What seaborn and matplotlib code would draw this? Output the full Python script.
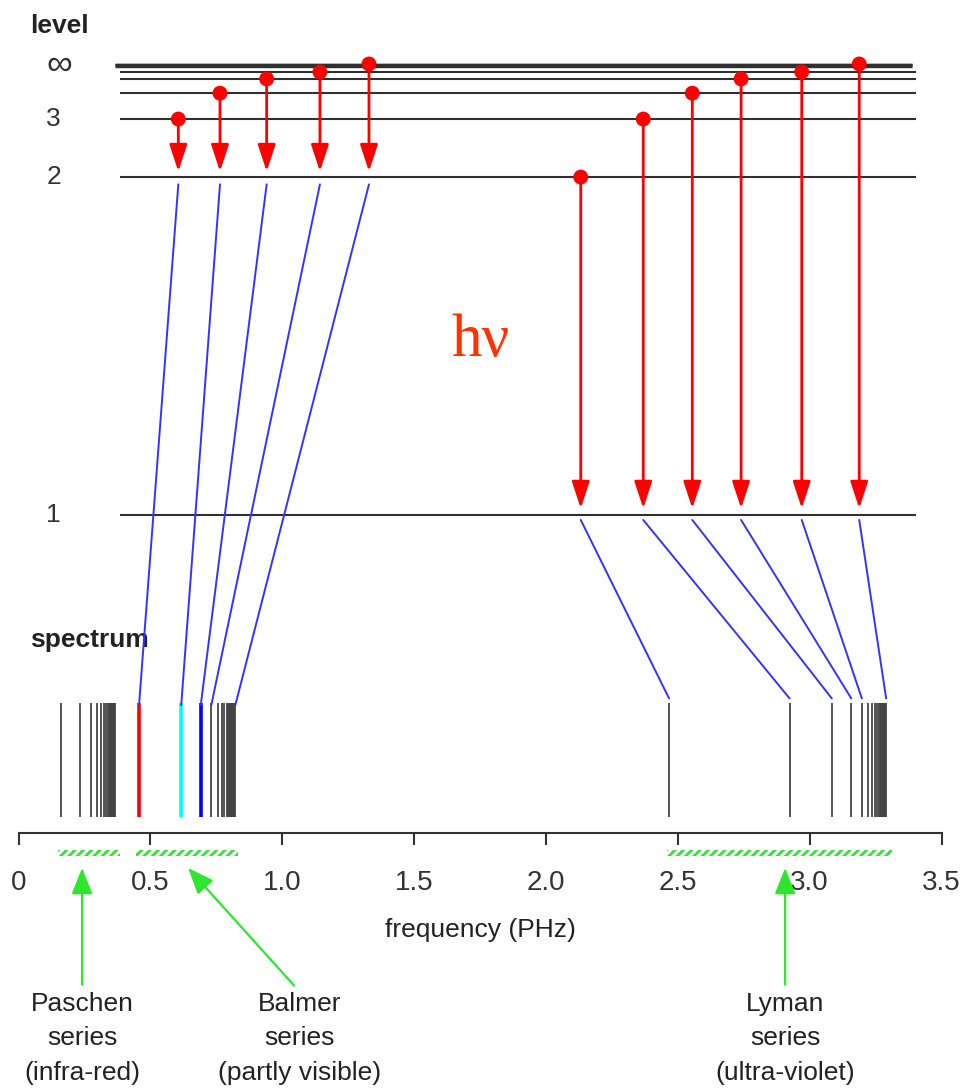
import numpy as np
import matplotlib
matplotlib.use('Agg')
import matplotlib.pyplot as plt
from matplotlib.patches import ConnectionPatch
import seaborn as sns

# Energy levels of hydrogen as drawn in the diagram (eV), n = 1..6
level_energy = [-13.6, -3.41, -1.66, -0.88, -0.45, -0.24]
# levels crowding towards the ionisation limit (eV)
limit_energy = [-0.10, -0.07, -0.045, -0.025, -0.01, 0.0]
level_tick_labels = ['1', '2', '3', '\u221e']
level_tick_values = [-13.6, -3.41, -1.66, -0.03]

# Transitions: horizontal place of each arrow and its upper / lower level (eV)
balmer_arrow_x = [0.606, 0.764, 0.941, 1.143, 1.329]
balmer_upper = [-1.66, -0.88, -0.45, -0.24, 0.0]
balmer_lower = -3.41
lyman_arrow_x = [2.132, 2.369, 2.555, 2.740, 2.970, 3.188]
lyman_upper = [-3.41, -1.66, -0.88, -0.45, -0.24, 0.0]
lyman_lower = -13.6

# Spectrum lines (PHz)
paschen_lines = [0.160, 0.234, 0.274, 0.298, 0.314, 0.325, 0.333, 0.339, 0.343,
                 0.347, 0.350, 0.352, 0.354, 0.356, 0.357, 0.359, 0.360, 0.362, 0.366]
balmer_lines = [0.457, 0.617, 0.691, 0.731, 0.755, 0.771, 0.781, 0.789, 0.794,
                0.799, 0.802, 0.805, 0.807, 0.809, 0.811, 0.813, 0.815, 0.817, 0.822]
balmer_colors = ['red', 'cyan', 'blue']
lyman_lines = [2.467, 2.924, 3.084, 3.158, 3.198, 3.223, 3.238, 3.249, 3.257,
               3.262, 3.267, 3.270, 3.273, 3.275, 3.277, 3.279, 3.282, 3.284, 3.290]

# where each transition ends up in the spectrum (PHz)
balmer_targets = [0.457, 0.617, 0.691, 0.731, 0.822]
lyman_targets = [2.467, 2.924, 3.084, 3.158, 3.198, 3.290]

# Series: name, frequency range (PHz), where the pointer goes
series_names = ['Paschen\nseries\n(infra-red)',
                'Balmer\nseries\n(partly visible)',
                'Lyman\nseries\n(ultra-violet)']
series_lo = [0.150, 0.446, 2.459]
series_hi = [0.385, 0.832, 3.313]
series_tip = [0.241, 0.643, 2.907]
series_text_x = [0.241, 1.067, 2.907]

freq_ticks = [0, 0.5, 1.0, 1.5, 2.0, 2.5, 3.0, 3.5]
freq_tick_labels = ['0', '0.5', '1.0', '1.5', '2.0', '2.5', '3.0', '3.5']

sns.set_theme(style='ticks')
plt.rcParams['font.family'] = ['Liberation Sans', 'DejaVu Sans']
plt.rcParams['hatch.linewidth'] = 2.0

fig = plt.figure(figsize=(9.77, 10.92), dpi=100)
ax_lv = fig.add_axes([0.01894, 0.48718, 0.94473, 0.51282])
ax_sp = fig.add_axes([0.01894, 0.23718, 0.94473, 0.21337])

# ---- energy level diagram ----
ax_lv.hlines(level_energy, 0.385, 3.402, color='#303030', lw=1.5)
ax_lv.hlines(limit_energy, 0.366, 3.388, color='#303030', lw=1.0)

for lab, val in zip(level_tick_labels, level_tick_values):
    size = 26 if lab == '\u221e' else 19
    ax_lv.text(0.106, val, lab, ha='left', va='center', fontsize=size, color='#333333')
ax_lv.text(0.0436, 0.935, 'level', fontsize=19, fontweight='bold', va='baseline', color='#222222')

for x, up in zip(balmer_arrow_x, balmer_upper):
    ax_lv.annotate('', xy=(x, balmer_lower + 0.17), xytext=(x, up),
                   arrowprops=dict(arrowstyle='-|>,head_length=0.82,head_width=0.27',
                                   mutation_scale=20, color='red', lw=2.0,
                                   shrinkA=0, shrinkB=0))
for x, up in zip(lyman_arrow_x, lyman_upper):
    ax_lv.annotate('', xy=(x, lyman_lower + 0.2), xytext=(x, up),
                   arrowprops=dict(arrowstyle='-|>,head_length=0.82,head_width=0.27',
                                   mutation_scale=20, color='red', lw=2.0,
                                   shrinkA=0, shrinkB=0))

sns.scatterplot(x=balmer_arrow_x + lyman_arrow_x, y=balmer_upper + lyman_upper,
                color='red', s=115, edgecolor='none', ax=ax_lv, zorder=5)

ax_lv.text(1.75, -8.81, 'h\u03bd', family=['Liberation Serif', 'DejaVu Serif'],
           fontsize=44, color='#ff3300', ha='center', va='baseline')

ax_lv.set_xlim(0, 3.5)
ax_lv.set_ylim(-14.958, 1.930)
ax_lv.axis('off')

# ---- spectrum ----
ax_sp.vlines(paschen_lines, 0, 1, color='#444444', lw=1.3)
ax_sp.vlines(balmer_lines[3:], 0, 1, color='#444444', lw=1.3)
ax_sp.vlines(balmer_lines[:3], 0, 1, colors=balmer_colors, lw=2.6)
ax_sp.vlines(lyman_lines, 0, 1, color='#444444', lw=1.3)

ax_sp.text(0.0436, 1.491, 'spectrum', fontsize=19, fontweight='bold', va='baseline', color='#222222')

# series ranges under the axis
ax_sp.bar(series_lo, height=0.046, width=np.subtract(series_hi, series_lo), bottom=-0.339,
          align='edge', facecolor='none', edgecolor='#2ee62e', linewidth=0,
          hatch='////', clip_on=False)

for name, tip, tx in zip(series_names, series_tip, series_text_x):
    ax_sp.annotate(name, xy=(tip, -0.447), xytext=(tx, -1.535), ha='center', va='top',
                   fontsize=19, color='#222222', linespacing=1.55, annotation_clip=False,
                   arrowprops=dict(arrowstyle='-|>,head_length=0.8,head_width=0.32',
                                   mutation_scale=20, color='#2ee62e', lw=1.6,
                                   shrinkA=3, shrinkB=0, relpos=(0.5, 1.0)))

# blue lines joining each transition to its spectral line
for x, tx in zip(balmer_arrow_x, balmer_targets):
    fig.add_artist(ConnectionPatch(xyA=(x, balmer_lower - 0.22), coordsA='data', axesA=ax_lv,
                                   xyB=(tx, 0.98), coordsB='data', axesB=ax_sp,
                                   color='#3333ff', lw=1.4))
for x, tx in zip(lyman_arrow_x, lyman_targets):
    fig.add_artist(ConnectionPatch(xyA=(x, lyman_lower - 0.15), coordsA='data', axesA=ax_lv,
                                   xyB=(tx, 1.04), coordsB='data', axesB=ax_sp,
                                   color='#3333ff', lw=1.4))

ax_sp.set_xlim(0, 3.5)
ax_sp.set_ylim(-0.1404, 1.9035)
ax_sp.set_yticks([])
ax_sp.set_xticks(freq_ticks)
ax_sp.set_xticklabels(freq_tick_labels)
sns.despine(ax=ax_sp, left=True)
ax_sp.spines['bottom'].set_color('#333333')
ax_sp.spines['bottom'].set_linewidth(1.5)
ax_sp.tick_params(axis='x', bottom=True, direction='out', length=8.6, width=1.5,
                  color='#333333', pad=18, labelsize=20, labelcolor='#333333')
ax_sp.set_xlabel('frequency (PHz)', fontsize=19, labelpad=16, color='#222222')

fig.savefig('out.png', dpi=100)
